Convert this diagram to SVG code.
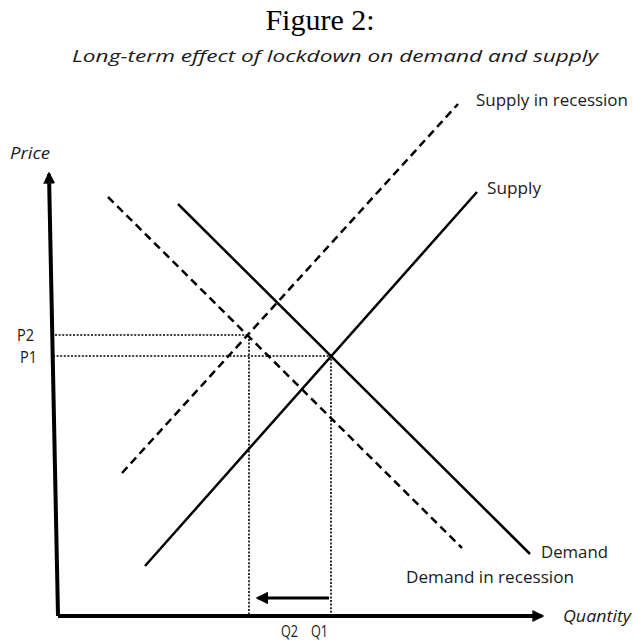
<svg xmlns="http://www.w3.org/2000/svg" width="634" height="641" viewBox="0 0 634 641">
  <style>
    .lbl { font-family: "Open Sans", "Liberation Sans", sans-serif; font-size: 17px; fill: #1a1a1a; }
    .ital { font-style: italic; }
    .solid { stroke: #000; stroke-width: 2.5; fill: none; }
    .dash { stroke: #000; stroke-width: 2.5; fill: none; stroke-dasharray: 8 5; }
    .dot { stroke: #000; stroke-width: 1.6; fill: none; stroke-dasharray: 2 1.6; }
    .axis { stroke: #000; stroke-width: 4; fill: none; }
  </style>
  <defs>
    <marker id="head" viewBox="0 0 10 10" refX="8" refY="5" markerWidth="3" markerHeight="3" orient="auto" markerUnits="strokeWidth">
      <path d="M0,0 L10,5 L0,10 z" fill="#000"/>
    </marker>
    <marker id="head2" viewBox="0 0 10 10" refX="8" refY="5" markerWidth="4.2" markerHeight="4.2" orient="auto" markerUnits="strokeWidth">
      <path d="M0,0 L10,5 L0,10 z" fill="#000"/>
    </marker>
  </defs>

  <rect width="634" height="641" fill="#fff"/>

  <g id="title">
    <text x="320" y="30" text-anchor="middle" font-family="'Liberation Serif', serif" font-size="30" fill="#000">Figure 2:</text>
    <text x="72" y="62" class="lbl ital" font-size="22" textLength="526" lengthAdjust="spacingAndGlyphs">Long-term effect of lockdown on demand and supply</text>
  </g>

  <g id="axes">
    <path class="axis" d="M58,616 L49,174" marker-end="url(#head)"/>
    <path class="axis" d="M58,616 L542,616" marker-end="url(#head)"/>
    <text x="10" y="159" class="lbl ital" font-size="16" textLength="40" lengthAdjust="spacingAndGlyphs">Price</text>
    <text x="563" y="622" class="lbl ital" textLength="68" lengthAdjust="spacingAndGlyphs">Quantity</text>
  </g>

  <g id="guides">
    <path class="dot" d="M55,335 L249,335 L249,614"/>
    <path class="dot" d="M53,356 L331,356 L331,614"/>
    <text x="17" y="341" class="lbl" font-size="15" textLength="17" lengthAdjust="spacingAndGlyphs">P2</text>
    <text x="20" y="363" class="lbl" font-size="15" textLength="17" lengthAdjust="spacingAndGlyphs">P1</text>
    <text x="281" y="637" class="lbl" font-size="15" textLength="17" lengthAdjust="spacingAndGlyphs">Q2</text>
    <text x="311" y="637" class="lbl" font-size="15" textLength="17" lengthAdjust="spacingAndGlyphs">Q1</text>
  </g>

  <g id="supply">
    <path class="solid" d="M145,566 L477,192"/>
    <text x="487" y="194" class="lbl" textLength="54" lengthAdjust="spacingAndGlyphs">Supply</text>
  </g>

  <g id="demand">
    <path class="solid" d="M178,204 L530,554"/>
    <text x="541" y="558" class="lbl" textLength="67" lengthAdjust="spacingAndGlyphs">Demand</text>
  </g>

  <g id="supply-recession">
    <path class="dash" d="M122,473 L458,104"/>
    <text x="476" y="106" class="lbl" textLength="152" lengthAdjust="spacingAndGlyphs">Supply in recession</text>
  </g>

  <g id="demand-recession">
    <path class="dash" d="M108,197 L462,548"/>
    <text x="406" y="583" class="lbl" textLength="168" lengthAdjust="spacingAndGlyphs">Demand in recession</text>
  </g>

  <g id="connectors">
    <path d="M329,598 L258,598" stroke="#000" stroke-width="3" fill="none" marker-end="url(#head2)"/>
  </g>
</svg>
